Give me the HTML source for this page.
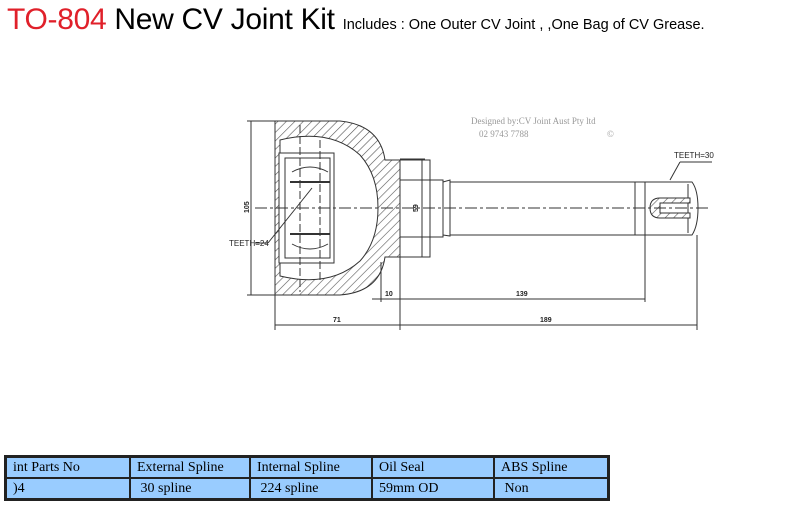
<!DOCTYPE html>
<html><head><style>
body{margin:0;width:800px;height:510px;background:#fff;overflow:hidden;position:relative;font-family:"Liberation Sans",sans-serif}
.t{position:absolute;left:7px;top:3px;white-space:nowrap;font-size:30px;letter-spacing:-0.3px}
.t .r{color:#e0202a}.t .s{font-size:14.5px;letter-spacing:0}
table{position:absolute;left:4px;top:455px;border-collapse:collapse;font-family:"Liberation Serif",serif;font-size:14px;border:3px solid #222}
td{background:#99ccff;border:2px solid #222;height:19px;padding:0 6px;overflow:hidden;white-space:nowrap}
</style></head><body>
<div class="t"><span class="r">TO-804</span> New CV Joint Kit <span class="s">Includes : One Outer CV Joint , ,One Bag of CV Grease.</span></div>
<svg width="800" height="510" style="position:absolute;left:0;top:0" font-family="Liberation Sans" >
<defs><pattern id="h" width="6" height="6" patternUnits="userSpaceOnUse" patternTransform="rotate(45)"><rect width="6" height="6" fill="#fff"/><line x1="0" y1="0" x2="0" y2="6" stroke="#555" stroke-width="1.2"/></pattern></defs>
<g stroke="#333" fill="none" stroke-width="1">
<path d="M275 121 H340 Q380 125 385 160 L400 160 V257 L385 257 Q380 292 340 295 H275 Z" fill="url(#h)"/>
<path d="M280 140 Q330 128 360 155 Q378 175 378 208 Q378 241 360 261 Q330 288 280 276 Z" fill="#fff"/>
<rect x="279" y="153" width="55" height="110" fill="#fff"/>
<path d="M285 158 H330 V258 H285 Z"/>
<path d="M290 182 H330 M290 234 H330" stroke-width="2"/>
<path d="M292 172 Q310 162 328 172 M292 244 Q310 254 328 244"/>
<line x1="300" y1="125" x2="300" y2="292" stroke-dasharray="8 3"/>
<line x1="320" y1="140" x2="320" y2="280" stroke-dasharray="8 3"/>
<line x1="268" y1="243" x2="312" y2="188"/>
<line x1="255" y1="243" x2="268" y2="243"/>
<rect x="400" y="160" width="30" height="97"/>
<path d="M400 180 H443 V237 H400"/>
<path d="M443 182 L450 180 V236 L443 235"/>
<rect x="450" y="182" width="185" height="53"/>
<path d="M635 182 H692 Q698 190 698 208 Q698 226 692 235 H635 Z"/>
<line x1="645" y1="182" x2="645" y2="235"/>
<line x1="688" y1="184" x2="688" y2="233"/>
<path d="M690 198 H660 Q650 198 650 208 Q650 218 660 218 H690 V213 H660 V203 H690 Z" fill="url(#h)"/>
<line x1="670" y1="180" x2="680" y2="162"/><line x1="680" y1="162" x2="712" y2="162"/>
<line x1="255" y1="208" x2="710" y2="208" stroke-dasharray="12 3 3 3"/>
<line x1="247" y1="121" x2="275" y2="121"/><line x1="247" y1="295" x2="275" y2="295"/>
<line x1="251" y1="121" x2="251" y2="295"/>
<line x1="400" y1="159" x2="425" y2="159"/><line x1="400" y1="257" x2="425" y2="257"/>
<line x1="422" y1="159" x2="422" y2="257"/>
<line x1="381" y1="262" x2="381" y2="302"/><line x1="400" y1="257" x2="400" y2="330"/>
<line x1="275" y1="295" x2="275" y2="330"/>
<line x1="645" y1="235" x2="645" y2="302"/><line x1="697" y1="235" x2="697" y2="330"/>
<line x1="372" y1="299" x2="645" y2="299"/>
<line x1="275" y1="325" x2="697" y2="325"/>
</g>
<g font-size="7" fill="#222" font-weight="bold">
<text x="240" y="212" transform="rotate(-90 245 208)">105</text>
<text x="385" y="296">10</text><text x="516" y="296">139</text>
<text x="333" y="322">71</text><text x="540" y="322">189</text>
<text x="229" y="246" font-weight="normal" font-size="8">TEETH=24</text>
<text x="674" y="158" font-weight="normal" font-size="8">TEETH=30</text>
<text x="410" y="212" transform="rotate(-90 414 208)">59</text>
</g>
<g font-family="Liberation Serif" font-size="9" fill="#999">
<text x="471" y="124">Designed by:CV Joint Aust Pty ltd</text>
<text x="479" y="137">02 9743 7788</text><text x="607" y="137">©</text>
</g>
</svg>
<table><tr><td style="width:110px">int Parts No</td><td style="width:106px">External Spline</td><td style="width:108px">Internal Spline</td><td style="width:108px">Oil Seal</td><td style="width:100px">ABS Spline</td></tr>
<tr><td>)4</td><td>&nbsp;30 spline</td><td>&nbsp;224 spline</td><td>59mm OD</td><td>&nbsp;Non</td></tr></table>
</body></html>
